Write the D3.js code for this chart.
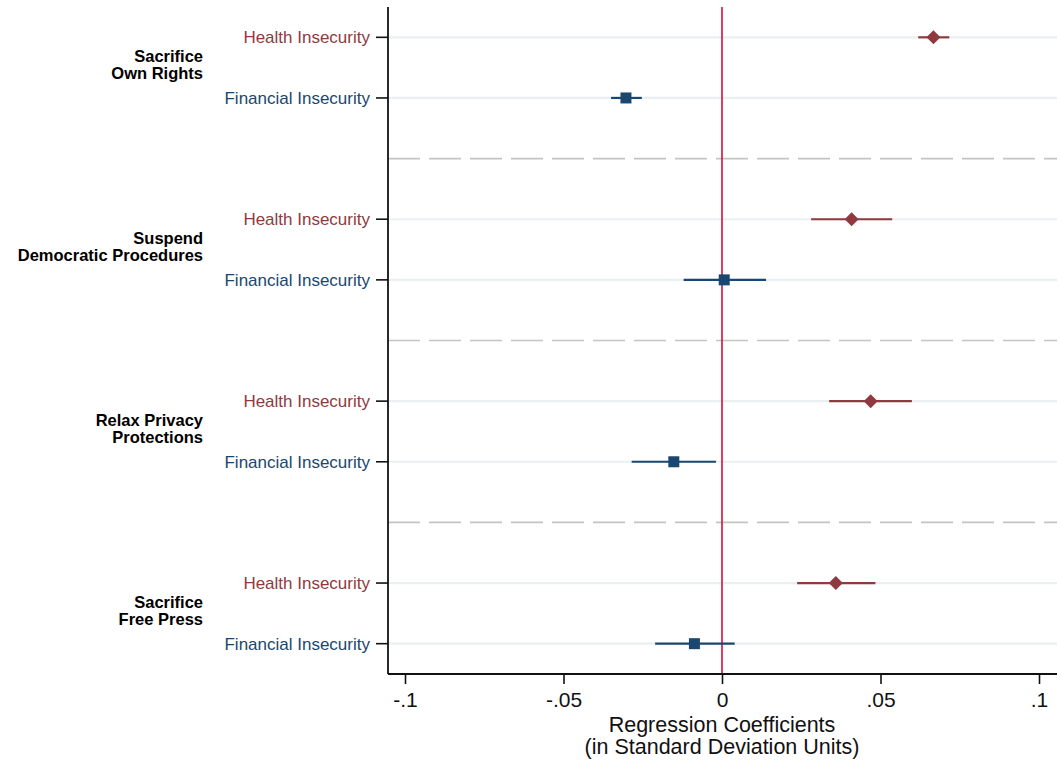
<!DOCTYPE html>
<html><head><meta charset="utf-8">
<script src="https://cdn.jsdelivr.net/npm/d3@7"></script>
<style>body{margin:0;background:#fff}svg{display:block}</style>
</head><body>
<svg id="c" width="1062" height="762"></svg>
<script>
const groups = ["Sacrifice\nOwn Rights","Suspend\nDemocratic Procedures","Relax Privacy\nProtections","Sacrifice\nFree Press"];
const seriesNames = ["Health Insecurity","Financial Insecurity"];
const healthEst = [0.0667, 0.0409, 0.0469, 0.0359];
const healthLo  = [0.0619, 0.0281, 0.0338, 0.0237];
const healthHi  = [0.0717, 0.0537, 0.0599, 0.0484];
const finEst = [-0.0303, 0.0007, -0.0152, -0.0087];
const finLo  = [-0.0350, -0.0121, -0.0285, -0.0211];
const finHi  = [-0.0253, 0.0139, -0.0019, 0.0040];
const xTicks = [-0.1, -0.05, 0, 0.05, 0.1];
const xTickLabels = ["-.1", "-.05", "0", ".05", ".1"];

const FONT = "Liberation Sans, Arial, Helvetica, sans-serif";
const svg = d3.select("#c");
const L = 388, R = 1057, T = 7, B = 674;
const x = d3.scaleLinear().domain([-0.1, 0.1]).range([405, 1039]);
const y = d3.scaleLinear().domain([0.5, 11.5]).range([T, B]);
const colH = "#903a40", colF = "#1a476f";

const rows = [];
groups.forEach((g, i) => {
  rows.push({pos: i*3+1, name: seriesNames[0], est: healthEst[i], lo: healthLo[i], hi: healthHi[i], col: colH, shape: "d"});
  rows.push({pos: i*3+2, name: seriesNames[1], est: finEst[i], lo: finLo[i], hi: finHi[i], col: colF, shape: "s"});
});

// grid lines
svg.append("g").selectAll("line").data(rows).join("line")
  .attr("x1", L).attr("x2", R).attr("y1", d => y(d.pos)).attr("y2", d => y(d.pos))
  .attr("stroke", "#eaf0f2").attr("stroke-width", 2.2);

// separators
svg.append("g").selectAll("line").data([3,6,9]).join("line")
  .attr("x1", L).attr("x2", R).attr("y1", d => y(d)).attr("y2", d => y(d))
  .attr("stroke", "#c4c4c4").attr("stroke-width", 1.6).attr("stroke-dasharray", "32,9");

// zero line
svg.append("line").attr("x1", x(0)).attr("x2", x(0)).attr("y1", T).attr("y2", B)
  .attr("stroke", "#d0103a").attr("stroke-width", 1.6);

// CIs
svg.append("g").selectAll("line").data(rows).join("line")
  .attr("x1", d => x(d.lo)).attr("x2", d => x(d.hi))
  .attr("y1", d => y(d.pos)).attr("y2", d => y(d.pos))
  .attr("stroke", d => d.col).attr("stroke-width", 2.2);

// markers
svg.append("g").selectAll("path").data(rows).join("path")
  .attr("transform", d => `translate(${x(d.est)},${y(d.pos)})`)
  .attr("d", d => d.shape === "d" ? "M0,-7L7,0L0,7L-7,0Z" : "M-5.5,-5.5H5.5V5.5H-5.5Z")
  .attr("fill", d => d.col);

// axes
svg.append("line").attr("x1", L).attr("x2", L).attr("y1", T).attr("y2", B).attr("stroke", "#111").attr("stroke-width", 1.8);
svg.append("line").attr("x1", L).attr("x2", R).attr("y1", B).attr("y2", B).attr("stroke", "#111").attr("stroke-width", 1.8);

const xa = svg.append("g").attr("transform", `translate(0,${B})`)
  .call(d3.axisBottom(x).tickValues(xTicks).tickFormat((d,i) => xTickLabels[i]).tickSize(10).tickPadding(8));
xa.select(".domain").remove();
xa.selectAll("line").attr("stroke", "#111").attr("stroke-width", 1.6);
xa.selectAll("text").attr("font-family", FONT).attr("font-size", 21).attr("fill", "#111");

// y tick marks + labels
svg.append("g").selectAll("line").data(rows).join("line")
  .attr("x1", L - 12).attr("x2", L).attr("y1", d => y(d.pos)).attr("y2", d => y(d.pos))
  .attr("stroke", "#111").attr("stroke-width", 1.6);
svg.append("g").selectAll("text").data(rows).join("text")
  .attr("x", 370).attr("y", d => y(d.pos)).attr("dy", "0.36em")
  .attr("text-anchor", "end").attr("font-family", FONT)
  .attr("font-size", 17).attr("fill", d => d.col).text(d => d.name);

// group labels
groups.forEach((g, i) => {
  const mid = y(i*3 + 1.5);
  const lines = g.split("\n");
  const t = svg.append("text").attr("text-anchor", "end")
    .attr("font-family", FONT).attr("font-weight", "bold")
    .attr("font-size", 16.5).attr("fill", "#000");
  lines.forEach((ln, j) => {
    t.append("tspan").attr("x", 203).attr("y", mid - 2.5 + (j - (lines.length-1)/2) * 17).attr("dy", "0.35em").text(ln);
  });
});

// axis title
const at = svg.append("text").attr("text-anchor", "middle")
  .attr("font-family", FONT).attr("font-size", 21.5).attr("fill", "#111");
at.append("tspan").attr("x", 722).attr("y", 732).text("Regression Coefficients");
at.append("tspan").attr("x", 722).attr("y", 754).text("(in Standard Deviation Units)");
</script>
</body></html>
